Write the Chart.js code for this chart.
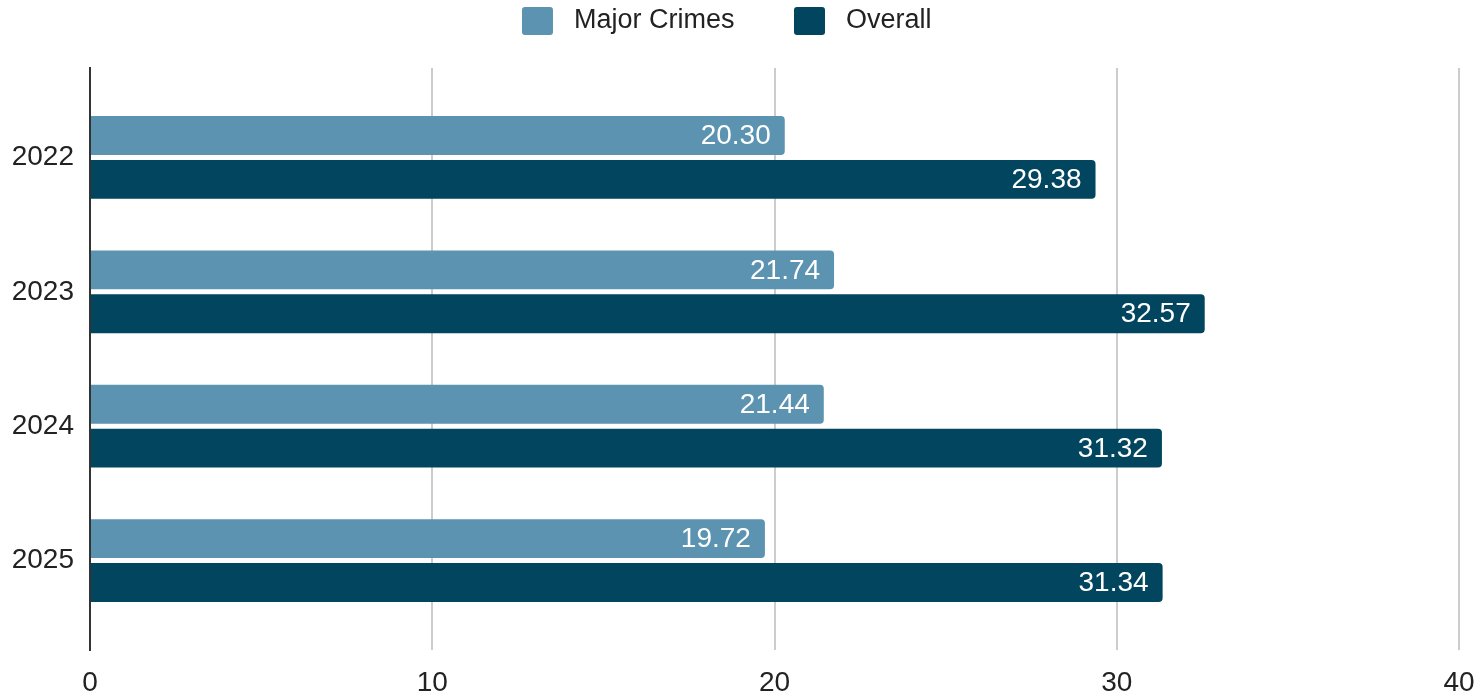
<!DOCTYPE html>
<html lang="en">
  <head>
    <meta charset="UTF-8" />
    <title>Major Crimes vs Overall</title>
    <script src="https://cdn.jsdelivr.net/npm/chart.js@4"></script>
    <style>
      html, body { margin: 0; padding: 0; background: #fff; }
      #chart { display: block; }
    </style>
  </head>
  <body>
    <canvas id="chart" width="1476" height="697"></canvas>

    <script>
      // data
      const years = ['2022', '2023', '2024', '2025'];
      const majorCrimes = [20.30, 21.74, 21.44, 19.72];
      const overall = [29.38, 32.57, 31.32, 31.34];
      const xTicks = [0, 10, 20, 30, 40];

      const FONT = "'Liberation Sans', Arial, sans-serif";
      const LIGHT = '#5b93b1';
      const DARK = '#02455f';

      // value labels drawn inside the end of each bar
      const barLabels = {
        id: 'barLabels',
        afterDatasetsDraw(chart) {
          const ctx = chart.ctx;
          ctx.save();
          ctx.font = '28px ' + FONT;
          ctx.fillStyle = '#ffffff';
          ctx.textAlign = 'right';
          ctx.textBaseline = 'middle';
          chart.data.datasets.forEach((ds, di) => {
            chart.getDatasetMeta(di).data.forEach((bar, i) => {
              ctx.fillText(ds.data[i].x.toFixed(2), bar.x - 14, bar.y + 1);
            });
          });
          ctx.restore();
        }
      };

      // extra room between legend and plot area
      const legendGap = {
        id: 'legendGap',
        beforeInit(chart) {
          const fit = chart.legend.fit;
          chart.legend.fit = function () {
            fit.bind(chart.legend)();
            this.height += 23;
          };
        }
      };

      const toPoints = (vals) => vals.map((v, i) => ({ x: v, y: i }));

      new Chart(document.getElementById('chart'), {
        type: 'bar',
        data: {
          datasets: [
            {
              label: 'Major Crimes',
              data: toPoints(majorCrimes),
              backgroundColor: LIGHT,
              borderRadius: 4,
              borderSkipped: 'start',
              categoryPercentage: 0.653,
              barPercentage: 0.886
            },
            {
              label: 'Overall',
              data: toPoints(overall),
              backgroundColor: DARK,
              borderRadius: 4,
              borderSkipped: 'start',
              categoryPercentage: 0.653,
              barPercentage: 0.886
            }
          ]
        },
        options: {
          indexAxis: 'y',
          responsive: false,
          animation: false,
          devicePixelRatio: 1,
          layout: { padding: 0 },
          plugins: {
            tooltip: { enabled: false },
            legend: {
              position: 'top',
              labels: {
                font: { family: FONT, size: 27 },
                color: '#222',
                boxWidth: 31,
                boxHeight: 28,
                useBorderRadius: true,
                borderRadius: 3,
                padding: 7,
                generateLabels(chart) {
                  const items = Chart.defaults.plugins.legend.labels.generateLabels(chart);
                  items.forEach((it, i) => {
                    it.lineWidth = 0;
                    it.text = ' ' + it.text + (i < items.length - 1 ? '       ' : '   ');
                  });
                  return items;
                }
              }
            }
          },
          scales: {
            x: {
              type: 'linear',
              min: 0,
              max: 40,
              afterBuildTicks(scale) {
                scale.ticks = xTicks.map((v) => ({ value: v }));
              },
              afterFit(scale) {
                scale.height = 47;
                scale.paddingRight = 17;
              },
              grid: { color: '#cccccc', lineWidth: 2, drawTicks: false },
              border: { display: false },
              ticks: {
                font: { family: FONT, size: 28 },
                color: '#222',
                padding: 16,
                maxRotation: 0
              }
            },
            y: {
              type: 'linear',
              reverse: true,
              offset: false,
              min: -0.665,
              max: 3.665,
              afterBuildTicks(scale) {
                scale.ticks = years.map((_, i) => ({ value: i }));
              },
              afterFit(scale) {
                scale.width = 90;
              },
              grid: { display: false, drawTicks: false },
              border: { color: '#333333', width: 2 },
              ticks: {
                font: { family: FONT, size: 28 },
                color: '#222',
                padding: 16,
                callback: (v) => years[v]
              }
            }
          }
        },
        plugins: [barLabels, legendGap]
      });
    </script>
  </body>
</html>
